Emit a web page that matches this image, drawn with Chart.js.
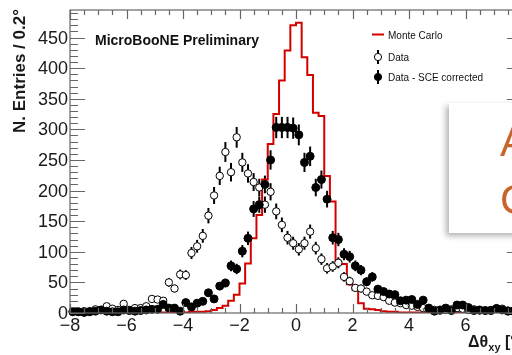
<!DOCTYPE html>
<html>
<head>
<meta charset="utf-8">
<script src="https://cdn.jsdelivr.net/npm/chart.js@4.4.0/dist/chart.umd.min.js"></script>
<style>
  html, body { margin: 0; padding: 0; overflow: hidden; background: #fff; }
  #wrap { position: relative; width: 512px; height: 355px; overflow: hidden; }
  #myChart { position: absolute; left: 0; top: 0; }
  #slide {
    position: absolute; left: 449px; top: 103px; width: 90px; height: 130px;
    background: #fff; box-shadow: -3px 3px 6px rgba(0,0,0,0.3);
  }
  #slide div {
    position: absolute; left: 51px; top: 10px;
    font: 42px "Liberation Sans", Arial, sans-serif; line-height: 58px; color: #c8652c;
  }
</style>
</head>
<body>
<div id="wrap">
  <canvas id="myChart" width="560" height="355"></canvas>
  <div id="slide"><div>A<br>C</div></div>
</div>
<script>
// bin centres, 0.2 deg bins from -8 to 8
const binCenters = [
  -7.9, -7.7, -7.5, -7.3, -7.1, -6.9, -6.7, -6.5, -6.3, -6.1,
  -5.9, -5.7, -5.5, -5.3, -5.1, -4.9, -4.7, -4.5, -4.3, -4.1,
  -3.9, -3.7, -3.5, -3.3, -3.1, -2.9, -2.7, -2.5, -2.3, -2.1,
  -1.9, -1.7, -1.5, -1.3, -1.1, -0.9, -0.7, -0.5, -0.3, -0.1,
  0.1, 0.3, 0.5, 0.7, 0.9, 1.1, 1.3, 1.5, 1.7, 1.9,
  2.1, 2.3, 2.5, 2.7, 2.9, 3.1, 3.3, 3.5, 3.7, 3.9,
  4.1, 4.3, 4.5, 4.7, 4.9, 5.1, 5.3, 5.5, 5.7, 5.9,
  6.1, 6.3, 6.5, 6.7, 6.9, 7.1, 7.3, 7.5, 7.7, 7.9
];
const binWidth = 0.2;

const monteCarlo = [
  0, 0, 0, 0, 0, 1, 0, 0, 1, 0,
  1, 1, 0, 1, 1, 1, 1, 1, 1, 1,
  1, 2, 2, 2, 3, 5, 8, 12, 20, 30,
  48, 81, 122, 160, 218, 276, 325, 380, 429, 470,
  474, 418, 389, 327, 322, 224, 182, 84, 80, 47,
  38, 16, 7, 6, 5, 3, 2, 2, 1, 1,
  1, 1, 1, 1, 0, 1, 1, 0, 1, 0,
  1, 0, 0, 1, 0, 0, 1, 0, 0, 0
];

const dataRaw = [
  3, 2, 3, 3, 6, 5, 11, 7, 5, 15,
  5, 8, 8, 11, 23, 22, 20, 50, 40, 63,
  62, 98, 109, 126, 159, 192, 224, 263, 230, 287,
  246, 228, 214, 205, 177, 198, 166, 144, 123, 114,
  104, 114, 133, 106, 88, 73, 76, 82, 59, 52,
  41, 40, 35, 29, 28, 26, 20, 17, 16, 13,
  12, 10, 8, 7, 5, 4, 5, 6, 8, 7,
  5, 6, 4, 4, 5, 8, 7, 4, 4, 3
];

const dataSCE = [
  2, 2, 1, 2, 3, 5, 3, 2, 2, 5,
  4, 3, 4, 5, 6, 6, 14, 8, 8, 3,
  17, 10, 16, 19, 33, 23, 44, 49, 77, 72,
  101, 122, 170, 177, 210, 250, 303, 303, 303, 302,
  291, 246, 256, 205, 218, 186, 123, 120, 96, 92,
  77, 70, 51, 59, 39, 35, 31, 30, 20, 21,
  22, 14, 21, 8, 3, 5, 8, 4, 13, 13,
  9, 4, 5, 4, 4, 7, 5, 3, 3, 2
];

const xTicks = [-8, -6, -4, -2, 0, 2, 4, 6, 8];
const yTicks = [0, 50, 100, 150, 200, 250, 300, 350, 400, 450];

const xMin = -8, xMax = 8, yMin = 0, yMax = 495;

let mcPoints = binCenters.map((c, i) => ({ x: c - binWidth / 2, y: monteCarlo[i] }));
mcPoints.push({ x: xMax, y: monteCarlo[monteCarlo.length - 1] });
let rawPoints = binCenters.map((c, i) => ({ x: c, y: dataRaw[i] }));
let scePoints = binCenters.map((c, i) => ({ x: c, y: dataSCE[i] }));

const font = '"Liberation Sans", Arial, Helvetica, sans-serif';
const frameColor = '#666';

// error bars (sqrt N) under the markers
const errorBars = {
  id: 'errorBars',
  beforeDatasetsDraw(chart) {
    const ctx = chart.ctx, xs = chart.scales.x, ys = chart.scales.y;
    ctx.save();
    ctx.strokeStyle = '#000';
    ctx.lineWidth = 2;
    [scePoints, rawPoints].forEach(pts => {
      pts.forEach(p => {
        const e = Math.sqrt(p.y);
        const px = xs.getPixelForValue(p.x);
        ctx.beginPath();
        ctx.moveTo(px, ys.getPixelForValue(Math.max(p.y - e, 0)));
        ctx.lineTo(px, ys.getPixelForValue(p.y + e));
        ctx.stroke();
      });
    });
    ctx.restore();
  }
};

// ROOT style frame, inward ticks, labels, titles, legend
const rootFrame = {
  id: 'rootFrame',
  afterDraw(chart) {
    const ctx = chart.ctx, xs = chart.scales.x, ys = chart.scales.y;
    const a = chart.chartArea;
    ctx.save();
    ctx.strokeStyle = frameColor;
    ctx.lineWidth = 1.2;
    ctx.strokeRect(a.left, a.top, a.right - a.left, a.bottom - a.top);

    ctx.beginPath();
    for (let v = xMin; v <= xMax + 1e-9; v += 0.5) {
      const px = Math.round(xs.getPixelForValue(v)) + 0.5;
      const major = Math.abs(v / 2 - Math.round(v / 2)) < 1e-6;
      const len = major ? 9 : 5;
      ctx.moveTo(px, a.bottom); ctx.lineTo(px, a.bottom - len);
      ctx.moveTo(px, a.top); ctx.lineTo(px, a.top + len);
    }
    for (let v = yMin; v <= yMax; v += 10) {
      const py = Math.round(ys.getPixelForValue(v)) + 0.5;
      const len = (v % 50 === 0) ? 15 : 8;
      ctx.moveTo(a.left, py); ctx.lineTo(a.left + len, py);
      ctx.moveTo(a.right, py); ctx.lineTo(a.right - len, py);
    }
    ctx.stroke();

    ctx.fillStyle = '#1a1a1a';
    ctx.font = '18px ' + font;
    ctx.textAlign = 'right';
    ctx.textBaseline = 'middle';
    yTicks.forEach(v => ctx.fillText(String(v), a.left - 2, ys.getPixelForValue(v) + 1));
    ctx.textAlign = 'center';
    ctx.textBaseline = 'top';
    xTicks.forEach(v => {
      const t = v < 0 ? '\u2212' + Math.abs(v) : String(v);
      ctx.fillText(t, xs.getPixelForValue(v), a.bottom + 4);
    });

    // y title
    ctx.save();
    ctx.translate(25, 9);
    ctx.rotate(-Math.PI / 2);
    ctx.font = 'bold 17px ' + font;
    ctx.textAlign = 'right';
    ctx.textBaseline = 'alphabetic';
    ctx.fillText('N. Entries / 0.2\u00b0', 0, 0);
    ctx.restore();

    // x title, right aligned at the axis end
    ctx.textBaseline = 'alphabetic';
    ctx.textAlign = 'left';
    const base = 347;
    ctx.font = 'bold 16px ' + font;
    const w1 = ctx.measureText('\u0394\u03b8').width;
    const w3 = ctx.measureText(' [\u00b0]').width;
    ctx.font = 'bold 11px ' + font;
    const w2 = ctx.measureText('xy').width;
    let x0 = a.right - (w1 + w2 + w3);
    ctx.font = 'bold 16px ' + font;
    ctx.fillText('\u0394\u03b8', x0, base);
    ctx.font = 'bold 11px ' + font;
    ctx.fillText('xy', x0 + w1, base + 4);
    ctx.font = 'bold 16px ' + font;
    ctx.fillText(' [\u00b0]', x0 + w1 + w2, base);

    // label
    ctx.fillStyle = '#111';
    ctx.font = 'bold 14px ' + font;
    ctx.textBaseline = 'middle';
    ctx.fillText('MicroBooNE Preliminary', 95, 41);

    // legend
    ctx.font = '10px ' + font;
    ctx.fillStyle = '#111';
    ctx.strokeStyle = '#d40000';
    ctx.lineWidth = 2;
    ctx.beginPath(); ctx.moveTo(372, 34.5); ctx.lineTo(384, 34.5); ctx.stroke();
    ctx.fillText('Monte Carlo', 388, 36);
    ctx.strokeStyle = '#000';
    ctx.lineWidth = 2;
    [[57, '#fff', 'Data'], [77, '#000', 'Data - SCE corrected']].forEach(([ly, fill, txt]) => {
      ctx.beginPath(); ctx.moveTo(378, ly - 7); ctx.lineTo(378, ly + 7); ctx.stroke();
      ctx.beginPath(); ctx.arc(378, ly, 3.6, 0, Math.PI * 2);
      ctx.fillStyle = fill; ctx.fill();
      ctx.lineWidth = 1; ctx.stroke(); ctx.lineWidth = 2;
      ctx.fillStyle = '#111';
      ctx.fillText(txt, 388, ly + 1);
    });
    ctx.restore();
  }
};

const myChart = document.getElementById('myChart');

let histChart = new Chart(myChart, {
  type: 'scatter',
  data: {
    datasets: [
      {
        label: 'Data - SCE corrected',
        data: scePoints,
        pointRadius: 4,
        pointBackgroundColor: '#000',
        pointBorderColor: '#000',
        pointBorderWidth: 1,
        clip: false
      },
      {
        label: 'Data',
        data: rawPoints,
        pointRadius: 3.7,
        pointBackgroundColor: '#fff',
        pointBorderColor: '#000',
        pointBorderWidth: 1,
        clip: false
      },
      {
        label: 'Monte Carlo',
        type: 'line',
        data: mcPoints,
        stepped: 'before',
        borderColor: '#d40000',
        borderWidth: 2,
        pointRadius: 0,
        fill: false
      }
    ]
  },
  options: {
    responsive: false,
    animation: false,
    layout: { padding: { left: 70, top: 10, right: 38, bottom: 42 } },
    plugins: { legend: { display: false }, tooltip: { enabled: false } },
    scales: {
      x: { type: 'linear', min: xMin, max: xMax, display: false },
      y: { type: 'linear', min: yMin, max: yMax, display: false }
    }
  },
  plugins: [errorBars, rootFrame]
});
</script>
</body>
</html>
